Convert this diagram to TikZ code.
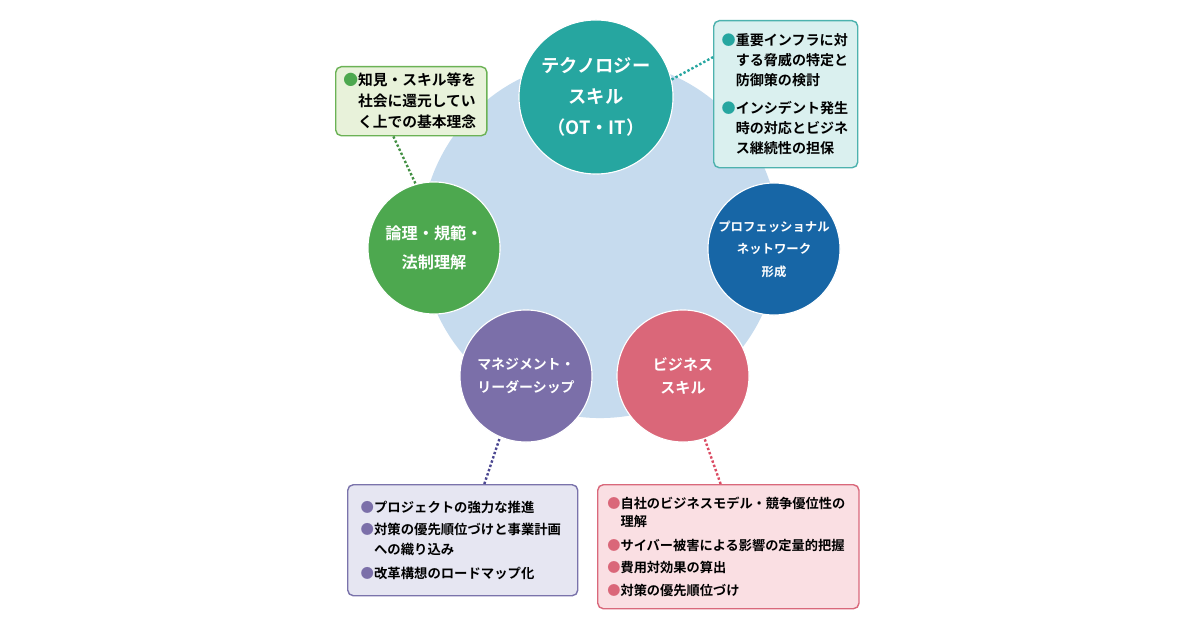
\documentclass[tikz,border=0pt]{standalone}
\usepackage{fontspec}
\setmainfont{Noto Sans CJK JP}[BoldFont={Noto Sans CJK JP Bold}]
\definecolor{ringblue}{HTML}{C6DBEE}
\definecolor{techteal}{HTML}{26A6A0}
\definecolor{techline}{HTML}{4DB2AE}
\definecolor{techpale}{HTML}{DAF0EF}
\definecolor{ethicsgreen}{HTML}{4DA84F}
\definecolor{greenline}{HTML}{6BB255}
\definecolor{greenpale}{HTML}{E8F2DA}
\definecolor{netblue}{HTML}{1766A6}
\definecolor{mgmtpurple}{HTML}{7B6FA9}
\definecolor{purpleline}{HTML}{7A73AB}
\definecolor{purplepale}{HTML}{E6E6F2}
\definecolor{bizpink}{HTML}{DA6779}
\definecolor{pinkline}{HTML}{D9687B}
\definecolor{pinkpale}{HTML}{FADFE3}
\definecolor{navydot}{HTML}{4A4690}
\definecolor{pinkdot}{HTML}{DB4B63}
\begin{document}
\begin{tikzpicture}[x=0.025cm, y=-0.025cm]
\tikzset{skill/.style={circle, draw=white, line width=0.8pt, text=white, align=center, inner sep=0pt, minimum size=3.3cm},
  notebox/.style={draw, rounded corners=4pt, line width=1pt, align=left, anchor=north west, inner ysep=0pt},
  linkdots/.style={line width=1.7pt, dash pattern=on 1.7pt off 1.5pt}}
\useasboundingbox (0,0) rectangle (1200,630);
\fill[white] (0,0) rectangle (1200,630);
\node[circle, fill=ringblue, minimum size=8.95cm] (ring) at (600,239) {};
\node[skill, fill=techteal, minimum size=3.85cm, font=\bfseries\fontsize{13}{22}\selectfont] (tech) at (596,97) {テクノロジー\\スキル\\（OT・IT）};
\node[skill, fill=ethicsgreen, font=\bfseries\fontsize{11.5}{21}\selectfont] (ethics) at (434,248) {論理・規範・\\法制理解};
\node[skill, fill=netblue, font=\bfseries\fontsize{8.8}{16}\selectfont] (network) at (774,249) {プロフェッショナル\\ネットワーク\\形成};
\node[skill, fill=mgmtpurple, font=\bfseries\fontsize{9.9}{16.5}\selectfont] (mgmt) at (526,376) {マネジメント・\\リーダーシップ};
\node[skill, fill=bizpink, font=\bfseries\fontsize{10.7}{17}\selectfont] (biz) at (683,376) {ビジネス\\スキル};
% boxes
\node[notebox, draw=techline, fill=techpale, text width=3.2cm, inner xsep=0.2cm, minimum height=3.675cm, font=\bfseries\fontsize{10}{14.2}\selectfont] (techbox) at (713,20) {\textcolor{techteal}{●}重要インフラに対\\\hphantom{●}する脅威の特定と\\\hphantom{●}防御策の検討\\[6pt]\textcolor{techteal}{●}インシデント発生\\\hphantom{●}時の対応とビジネ\\\hphantom{●}ス継続性の担保};
\node[notebox, draw=greenline, fill=greenpale, text width=3.4cm, inner xsep=0.19cm, minimum height=1.725cm, font=\bfseries\fontsize{10.5}{15}\selectfont] (ethicsbox) at (335,66) {\textcolor{ethicsgreen}{●}知見・スキル等を\\\hphantom{●}社会に還元してい\\\hphantom{●}く上での基本理念};
\node[notebox, draw=purpleline, fill=purplepale, text width=5.1cm, inner xsep=0.325cm, minimum height=2.775cm, font=\bfseries\fontsize{9.5}{14}\selectfont] (mgmtbox) at (347,484) {\textcolor{mgmtpurple}{●}プロジェクトの強力な推進\\[2pt]\textcolor{mgmtpurple}{●}対策の優先順位づけと事業計画\\\hphantom{●}への織り込み\\[3pt]\textcolor{mgmtpurple}{●}改革構想のロードマップ化};
\node[notebox, draw=pinkline, fill=pinkpale, text width=6.05cm, inner xsep=0.24cm, minimum height=3.1cm, font=\bfseries\fontsize{9.4}{13}\selectfont] (bizbox) at (597,484) {\textcolor{bizpink}{●}自社のビジネスモデル・競争優位性の\\\hphantom{●}理解\\[4pt]\textcolor{bizpink}{●}サイバー被害による影響の定量的把握\\[3pt]\textcolor{bizpink}{●}費用対効果の算出\\[3pt]\textcolor{bizpink}{●}対策の優先順位づけ};
% dotted links
\draw[linkdots, techteal] (tech.13) -- (techbox.153);
\draw[linkdots, ethicsgreen!85!black] (ethicsbox.243) -- (ethics.106);
\draw[linkdots, navydot] (mgmtbox.69) -- (mgmt.247);
\draw[linkdots, pinkdot] (bizbox.97) -- (biz.289);
\end{tikzpicture}
\end{document}
